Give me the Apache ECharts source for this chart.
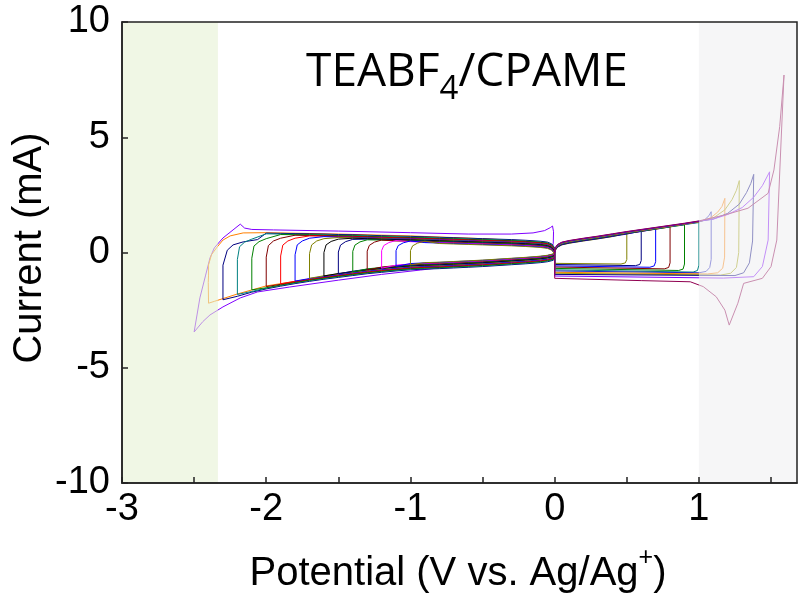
<!DOCTYPE html>
<html><head><meta charset="utf-8">
<script src="https://cdn.jsdelivr.net/npm/echarts@6/dist/echarts.min.js"></script>
<style>html,body{margin:0;padding:0;background:#fff}#c{width:804px;height:601px}</style>
</head><body><div id="c"></div>
<script>
// ================= DATA (V vs Ag/Ag+, mA) =================
const xRange = [-3, 1.68];
const yRange = [-10, 10];
const greenWindow = [-3, -2.335];
const grayWindow = [1.0, 1.68];

// shared cathodic branch (0 -> negative vertex), band centre
const negDownV = [0, -0.01, -0.05, -0.1, -0.2, -0.3, -0.4, -0.5, -0.6, -0.7, -0.8, -0.9, -1.0, -1.1, -1.2, -1.3, -1.4, -1.5, -1.6, -1.7, -1.8, -1.9, -2.0, -2.1, -2.2, -2.3];
const negDownI = [-0.05, -0.14, -0.2, -0.24, -0.29, -0.33, -0.37, -0.41, -0.44, -0.47, -0.5, -0.52, -0.55, -0.6, -0.66, -0.72, -0.8, -0.88, -0.96, -1.05, -1.15, -1.26, -1.38, -1.52, -1.7, -1.95];
// shared anodic return branch (vertex -> 0), band centre
const negUpV = [-2.3, -2.2, -2.1, -2.0, -1.9, -1.8, -1.7, -1.6, -1.5, -1.4, -1.3, -1.2, -1.1, -1.0, -0.9, -0.8, -0.7, -0.6, -0.5, -0.4, -0.3, -0.2, -0.1, -0.05, -0.02, 0];
const negUpI = [0.7, 0.7, 0.7, 0.69, 0.68, 0.67, 0.66, 0.65, 0.63, 0.62, 0.6, 0.58, 0.56, 0.55, 0.53, 0.51, 0.49, 0.47, 0.45, 0.43, 0.41, 0.38, 0.34, 0.3, 0.22, 0.05];

const negVertex = [-2.3, -2.2, -2.1, -2.0, -1.9, -1.8, -1.7, -1.6, -1.5, -1.4, -1.3, -1.2, -1.1, -1.0];
const negDownOffset = [-0.2, -0.17, -0.15, -0.12, -0.1, -0.08, -0.05, -0.03, -0.01, 0.01, 0.03, 0.05, 0.07, 0.08];
const negUpOffset = [0.15, 0.12, 0.1, 0.08, 0.06, 0.04, 0.02, 0.0, -0.02, -0.04, -0.06, -0.08, -0.1, -0.12];
const negColors = ['#000080', '#008080', '#008000', '#800000', '#ff0000', '#0000ff', '#808000', '#000000', '#000080', '#008000', '#800000', '#ff00ff', '#0000ff', '#808000'];
const negTips = [
  [[-2.3, -2.05], [-2.3, -0.55], [-2.27, 0.1], [-2.23, 0.33], [-2.16, 0.46], [-2.06, 0.56]],
  [[-2.2, -1.82], [-2.2, -0.3], [-2.185, 0.25], [-2.15, 0.45], [-2.1, 0.58]],
  [[-2.1, -1.62], [-2.1, -0.25], [-2.085, 0.28], [-2.05, 0.47], [-2.0, 0.6]],
  [[-2.0, -1.48], [-2.0, -0.2], [-1.985, 0.3], [-1.95, 0.5], [-1.9, 0.62]],
  [[-1.9, -1.36], [-1.9, -0.15], [-1.885, 0.32], [-1.85, 0.5], [-1.8, 0.62]],
  [[-1.8, -1.24], [-1.8, -0.1], [-1.785, 0.33], [-1.75, 0.5], [-1.7, 0.62]],
  [[-1.7, -1.12], [-1.7, -0.05], [-1.685, 0.33], [-1.65, 0.5], [-1.6, 0.6]],
  [[-1.6, -1.02], [-1.6, 0.0], [-1.585, 0.33], [-1.55, 0.48], [-1.5, 0.58]],
  [[-1.5, -0.93], [-1.5, 0.02], [-1.485, 0.32], [-1.45, 0.47], [-1.4, 0.57]],
  [[-1.4, -0.84], [-1.4, 0.05], [-1.385, 0.32], [-1.35, 0.46], [-1.3, 0.55]],
  [[-1.3, -0.76], [-1.3, 0.06], [-1.285, 0.31], [-1.25, 0.45], [-1.2, 0.54]],
  [[-1.2, -0.68], [-1.2, 0.08], [-1.185, 0.3], [-1.15, 0.43], [-1.1, 0.52]],
  [[-1.1, -0.6], [-1.1, 0.08], [-1.085, 0.3], [-1.05, 0.42], [-1.0, 0.5]],
  [[-1.0, -0.53], [-1.0, 0.08], [-0.985, 0.29], [-0.95, 0.41], [-0.9, 0.49]]
];

// outermost cathodic scans
const loopNeg25 = [[0, -0.02], [-0.02, -0.15], [-0.08, -0.24], [-0.3, -0.36], [-0.6, -0.52], [-0.93, -0.76], [-1.2, -0.95], [-1.5, -1.2], [-1.84, -1.5], [-2.06, -1.71], [-2.18, -1.97], [-2.3, -2.36], [-2.39, -2.71], [-2.44, -3.0], [-2.5, -3.45], [-2.48, -2.71], [-2.46, -1.97], [-2.42, -0.98], [-2.39, -0.24], [-2.36, 0.2], [-2.3, 0.63], [-2.23, 0.98], [-2.18, 1.23], [-2.15, 1.06], [-2.1, 1.0], [-1.95, 0.98], [-1.5, 0.93], [-1.0, 0.86], [-0.6, 0.8], [-0.3, 0.8], [-0.15, 0.85], [-0.07, 0.95], [-0.03, 1.08], [-0.015, 1.15], [-0.008, 0.9], [-0.01, 0.4], [-0.02, 0.15], [0, 0]];
const loopNeg24 = [[0, -0.05], [-0.1, -0.23], [-0.5, -0.45], [-1.0, -0.68], [-1.5, -1.02], [-1.8, -1.25], [-2.0, -1.45], [-2.2, -1.8], [-2.3, -2.0], [-2.36, -2.12], [-2.4, -2.2], [-2.402, -1.3], [-2.4, -0.98], [-2.4, -0.54], [-2.38, -0.1], [-2.34, 0.24], [-2.3, 0.54], [-2.25, 0.72], [-2.16, 0.85], [-2.0, 0.86], [-1.5, 0.8], [-1.0, 0.72], [-0.5, 0.6], [-0.2, 0.5], [-0.05, 0.38], [0, 0.05]];
const colorNeg25 = '#8000ff';
const colorNeg24 = '#ff8000';

// shared anodic branch (0 -> positive vertex)
const posUpV = [0, 0.005, 0.02, 0.05, 0.1, 0.2, 0.3, 0.4, 0.5, 0.6, 0.7, 0.8, 0.9, 1.0];
const posUpI = [0.0, 0.15, 0.28, 0.38, 0.45, 0.55, 0.64, 0.74, 0.84, 0.93, 1.02, 1.11, 1.2, 1.3];
const posVertex = [0.5, 0.6, 0.7, 0.8, 0.9, 1.0, 1.1, 1.2, 1.3, 1.4, 1.5, 1.6];
const posUpOffset = [-0.05, -0.04, -0.02, -0.01, 0.0, 0.01, 0.02, 0.03, 0.04, 0.05, 0.06, 0.07];
const posBottomAt0 = [-0.47, -0.52, -0.58, -0.63, -0.69, -0.75, -0.8, -0.86, -0.9, -0.95, -1.02, -1.12];
const posColors = ['#808000', '#000080', '#0000ff', '#800000', '#008000', '#008080', '#2020c0', '#ff8000', '#a0a000', '#000080', '#8000ff', '#900050'];
const posTips = [
  [[0.5, 0.84], [0.5, -0.3], [0.49, -0.45], [0.46, -0.5]],
  [[0.6, 0.93], [0.6, -0.35], [0.59, -0.52], [0.56, -0.57]],
  [[0.7, 1.02], [0.7, -0.4], [0.69, -0.58], [0.66, -0.64]],
  [[0.8, 1.11], [0.8, -0.45], [0.79, -0.65], [0.76, -0.71]],
  [[0.9, 1.2], [0.9, -0.5], [0.89, -0.72], [0.86, -0.78]],
  [[1.0, 1.3], [1.0, -0.55], [0.99, -0.78], [0.96, -0.85]],
  [[1.04, 1.42], [1.07, 1.6], [1.085, 1.77], [1.085, -0.3], [1.075, -0.65], [1.05, -0.82], [1.0, -0.88]],
  [[1.08, 1.5], [1.13, 1.75], [1.16, 2.0], [1.18, 2.35], [1.178, -0.2], [1.165, -0.68], [1.13, -0.88], [1.06, -0.93]],
  [[1.1, 1.5], [1.18, 1.85], [1.23, 2.3], [1.26, 2.7], [1.28, 3.12], [1.276, 0.0], [1.26, -0.65], [1.22, -0.9], [1.15, -0.98]],
  [[1.1, 1.45], [1.2, 1.7], [1.28, 2.1], [1.33, 2.6], [1.36, 3.0], [1.38, 3.39], [1.372, 0.5], [1.35, -0.45], [1.31, -0.88], [1.25, -1.0]],
  [[1.1, 1.45], [1.2, 1.65], [1.3, 1.95], [1.38, 2.4], [1.44, 2.9], [1.49, 3.5], [1.48, 0.54], [1.44, -0.61], [1.38, -1.05], [1.17, -1.11]],
  [[1.18, 1.63], [1.34, 1.92], [1.48, 2.57], [1.52, 3.58], [1.56, 5.46], [1.59, 7.7], [1.57, 4.88], [1.54, 0.54], [1.5, -0.61], [1.44, -1.12], [1.31, -1.34], [1.27, -2.2], [1.21, -3.15], [1.18, -2.5], [1.12, -1.92], [1.03, -1.48], [0.94, -1.27], [0.6, -1.22]]
];

const titleMain1 = 'TEABF', titleSub = '4', titleMain2 = '/CPAME';
const xName1 = 'Potential (V vs. Ag/Ag', xSup = '+', xName2 = ')';
const yName = 'Current (mA)';

// ================= BUILD =================
const EPS = 1e-9;
function buildNeg(i) {
  const v = negVertex[i], tip = negTips[i], pts = [];
  negDownV.forEach((x, k) => { if (x > v + EPS) pts.push([x, negDownI[k] + negDownOffset[i]]); });
  tip.forEach(p => pts.push(p));
  const end = tip[tip.length - 1][0];
  negUpV.forEach((x, k) => { if (x > end + EPS) pts.push([x, negUpI[k] + negUpOffset[i]]); });
  return pts;
}
function buildPos(i) {
  const tip = posTips[i], pts = [];
  posUpV.forEach((x, k) => { if (x < tip[0][0] - EPS) pts.push([x, posUpI[k] + (k > 0 ? posUpOffset[i] : 0)]); });
  tip.forEach(p => pts.push(p));
  pts.push([0.0, posBottomAt0[i]]);
  pts.push([0, 0.15]);
  return pts;
}
const series = [];
function lineSeries(data, color) {
  return { type: 'line', data: data, symbol: 'none', showSymbol: false, z: 2, silent: true,
    lineStyle: { color: color, width: 1 }, animation: false };
}
series.push(lineSeries(loopNeg25, colorNeg25));
series.push(lineSeries(loopNeg24, colorNeg24));
negVertex.forEach((v, i) => series.push(lineSeries(buildNeg(i), negColors[i])));
posVertex.forEach((v, i) => series.push(lineSeries(buildPos(i), posColors[i])));
// translucent potential-window overlays (drawn over the curves)
series.push({ type: 'line', data: [], z: 8, silent: true, animation: false,
  markArea: { silent: true, animation: false, z: 8, data: [
    [{ xAxis: greenWindow[0], itemStyle: { color: 'rgba(230,242,212,0.6)' } }, { xAxis: greenWindow[1] }],
    [{ xAxis: grayWindow[0], itemStyle: { color: 'rgba(240,240,242,0.6)' } }, { xAxis: grayWindow[1] }]
  ] } });

// text measurement
const mctx = document.createElement('canvas').getContext('2d');
function tw(t, f) { mctx.font = f; return mctx.measureText(t).width; }
const TF = '"Open Sans"';
const AF = '"Liberation Sans", Arial';
const tMain = 46, tSub = 33;
const wT1 = tw(titleMain1, tMain + 'px ' + TF), wTs = tw(titleSub, tSub + 'px ' + TF), wT2 = tw(titleMain2, tMain + 'px ' + TF);
const tx0 = 467 - (wT1 + wTs + wT2) / 2;
const xnSize = 40, xsSize = 25, ynSize = 40;
const wX1 = tw(xName1, xnSize + 'px ' + AF), wXs = tw(xSup, xsSize + 'px ' + AF), wX2 = tw(xName2, xnSize + 'px ' + AF);
const xx0 = 458 - (wX1 + wXs + wX2) / 2;

const chart = echarts.init(document.getElementById('c'));
chart.setOption({
  animation: false,
  backgroundColor: '#fff',
  grid: { left: 122, top: 22, right: 7, bottom: 118, show: true, borderColor: '#222', borderWidth: 1.5, z: 10, backgroundColor: 'transparent' },
  xAxis: { type: 'value', min: xRange[0], max: xRange[1], interval: 0.5, z: 10,
    axisLine: { show: true, onZero: false, lineStyle: { color: '#222', width: 1.5 } },
    axisTick: { show: true, inside: true, length: 6, lineStyle: { color: '#222', width: 1.5 } },
    axisLabel: { formatter: v => (Math.abs(v - Math.round(v)) < 1e-6 ? String(Math.round(v)) : ''), fontSize: 38, color: '#000', fontFamily: AF, margin: 8, showMaxLabel: false },
    splitLine: { show: false } },
  yAxis: { type: 'value', min: yRange[0], max: yRange[1], interval: 5, z: 10,
    axisLine: { show: true, onZero: false, lineStyle: { color: '#222', width: 1.5 } },
    axisTick: { show: true, inside: true, length: 6, lineStyle: { color: '#222', width: 1.5 } },
    axisLabel: { fontSize: 38, color: '#000', fontFamily: AF, margin: 12 },
    splitLine: { show: false } },
  graphic: [
    { type: 'text', x: tx0, y: 73, style: { text: titleMain1, font: tMain + 'px ' + TF, fill: '#000', verticalAlign: 'middle', align: 'left' }, z: 20 },
    { type: 'text', x: tx0 + wT1, y: 90, style: { text: titleSub, font: tSub + 'px ' + TF, fill: '#000', verticalAlign: 'middle', align: 'left' }, z: 20 },
    { type: 'text', x: tx0 + wT1 + wTs, y: 73, style: { text: titleMain2, font: tMain + 'px ' + TF, fill: '#000', verticalAlign: 'middle', align: 'left' }, z: 20 },
    { type: 'text', x: xx0, y: 574, style: { text: xName1, font: xnSize + 'px ' + AF, fill: '#000', verticalAlign: 'middle', align: 'left' }, z: 20 },
    { type: 'text', x: xx0 + wX1, y: 558, style: { text: xSup, font: xsSize + 'px ' + AF, fill: '#000', verticalAlign: 'middle', align: 'left' }, z: 20 },
    { type: 'text', x: xx0 + wX1 + wXs, y: 574, style: { text: xName2, font: xnSize + 'px ' + AF, fill: '#000', verticalAlign: 'middle', align: 'left' }, z: 20 },
    { type: 'text', x: 30, y: 248, rotation: Math.PI / 2, style: { text: yName, font: ynSize + 'px ' + AF, fill: '#000', verticalAlign: 'middle', align: 'center' }, z: 20 }
  ],
  series: series
});
</script></body></html>
